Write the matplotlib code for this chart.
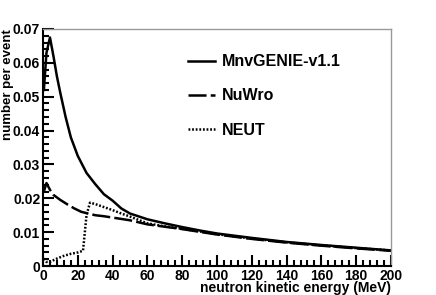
import numpy as np
import matplotlib
matplotlib.use("Agg")
import matplotlib.pyplot as plt
from matplotlib.ticker import MultipleLocator, FuncFormatter

# neutron kinetic energy (MeV) and number per event
genie_x = [0.5, 2, 4, 6, 8, 10, 13, 16, 20, 25, 30, 35, 40, 45, 50, 60, 70, 80, 90, 100,
           120, 140, 160, 180, 200]
genie_y = [0.052, 0.063, 0.0675, 0.062, 0.056, 0.051, 0.044, 0.038, 0.0325, 0.0275, 0.0242,
           0.0212, 0.0193, 0.0170, 0.0155, 0.0138, 0.0126, 0.0115, 0.0105, 0.0096,
           0.0083, 0.0071, 0.0062, 0.0054, 0.0046]

nuwro_x = [0.5, 2, 4, 6, 10, 14, 18, 22, 26, 30, 35, 40, 50, 60, 70, 80, 90, 100,
           120, 140, 160, 180, 200]
nuwro_y = [0.022, 0.0245, 0.0225, 0.0210, 0.0195, 0.0182, 0.0170, 0.0160, 0.0155, 0.0150,
           0.0147, 0.0143, 0.0135, 0.0123, 0.0116, 0.0109, 0.0101, 0.0093,
           0.0080, 0.0069, 0.0060, 0.0052, 0.0045]

neut_x = [0.5, 2, 4, 8, 12, 16, 20, 23, 25, 27, 30, 35, 40, 45, 50, 60, 70, 80, 90, 100,
          120, 140, 160, 180, 200]
neut_y = [0.0022, 0.0012, 0.0012, 0.0022, 0.0030, 0.0036, 0.0040, 0.0045, 0.0150, 0.0187,
          0.0183, 0.0174, 0.0165, 0.0155, 0.0146, 0.0126, 0.0117, 0.0110, 0.0102, 0.0094,
          0.0081, 0.0070, 0.0061, 0.0053, 0.0046]

labels = ["MnvGENIE-v1.1", "NuWro", "NEUT"]

plt.rcParams["font.family"] = ["Liberation Sans", "DejaVu Sans"]
plt.rcParams["font.weight"] = "bold"
plt.rcParams["lines.scale_dashes"] = False

fig = plt.figure(figsize=(4.36, 2.95), dpi=100)
ax = fig.add_axes([43/436, 1-266/295, 348/436, 237/295])

ax.plot(genie_x, genie_y, "-", c="black", lw=1.8, label=labels[0])
ax.plot(nuwro_x, nuwro_y, c="black", lw=1.8, dashes=(13, 3), label=labels[1])
ax.plot(neut_x, neut_y, c="black", lw=1.8, dashes=(1.3, 1.3), label=labels[2])

ax.set_xlim(0, 200)
ax.set_ylim(0, 0.07)
ax.xaxis.set_major_locator(MultipleLocator(20))
ax.xaxis.set_minor_locator(MultipleLocator(4))
ax.yaxis.set_major_locator(MultipleLocator(0.01))
ax.yaxis.set_minor_locator(MultipleLocator(0.002))
ax.yaxis.set_major_formatter(FuncFormatter(lambda v, p: "0" if abs(v) < 1e-9 else f"{v:.2f}"))
ax.tick_params(which="both", direction="in", top=False, right=False, width=1.5,
               labelsize=10, pad=2)
ax.tick_params(which="major", length=8)
ax.tick_params(which="minor", length=4)
for s in ("left", "bottom"):
    ax.spines[s].set_linewidth(1.5)
for s in ("top", "right"):
    ax.spines[s].set_color("#999999")
    ax.spines[s].set_linewidth(1.0)

ax.set_xlabel("neutron kinetic energy (MeV)", fontsize=10, fontweight="bold",
              loc="right", labelpad=-1)
ax.set_ylabel("number per event", fontsize=9.5, fontweight="bold", loc="top")
ax.yaxis.set_label_coords(-0.082, 1.0)

ax.legend(loc="upper left", bbox_to_anchor=(0.374, 0.954), frameon=False, fontsize=11.5,
          handlelength=1.7, handletextpad=0.45, labelspacing=1.2)

fig.savefig("out.png", dpi=100)
